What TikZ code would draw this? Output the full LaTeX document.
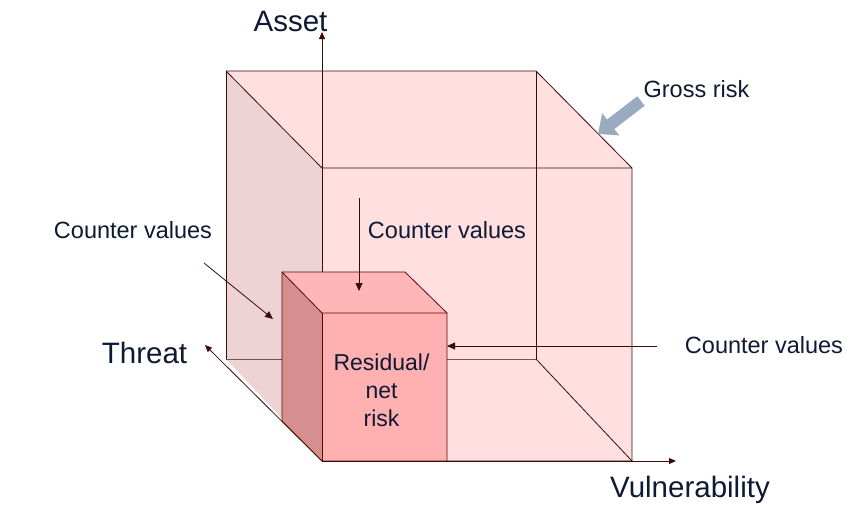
\documentclass[tikz,border=0pt]{standalone}
\usepackage{fontspec}
\setmainfont{Liberation Sans}
\usetikzlibrary{arrows.meta}
\definecolor{edge}{HTML}{3C0A0A}
\definecolor{txt}{HTML}{0E1A33}
\definecolor{bigfront}{HTML}{FFDFDF}
\definecolor{bigleft}{HTML}{EDD3D3}
\definecolor{smfront}{HTML}{FFB0B0}
\definecolor{smleft}{HTML}{D68F8F}
\definecolor{smtop}{HTML}{FFB6B6}
\definecolor{gross}{HTML}{9AAABF}
\tikzset{
  edgeline/.style={draw=edge, line width=0.8pt, line join=round},
  backline/.style={draw=edge!70!white, line width=0.8pt},
  smedge/.style={draw=edge!85!red, line width=0.8pt, line join=round},
  axis/.style={draw=edge, line width=0.8pt, -{Triangle[length=7pt,width=6pt]}},
  cvarrow/.style={draw=edge, line width=0.8pt, -{Triangle[length=8pt,width=7pt]}},
  lbl/.style={text=txt, inner sep=0pt, anchor=base},
  big/.style={lbl, font=\fontsize{29.5}{33}\selectfont},
  mid/.style={lbl, font=\fontsize{23.5}{28}\selectfont},
}
\begin{document}
\begin{tikzpicture}[x=1pt,y=-1pt]
\useasboundingbox (0,0) rectangle (856,506);
% big cube corners
\coordinate (B1) at (226,71);
\coordinate (B2) at (536,71);
\coordinate (B3) at (536,359);
\coordinate (B4) at (226,359);
\coordinate (F1) at (322,168);
\coordinate (F2) at (632,168);
\coordinate (F3) at (632,461);
\coordinate (F4) at (322,461);
% faces
\fill[bigleft] (B1) -- (F1) -- (F4) -- (B4) -- cycle;
\fill[bigfront] (B1) -- (B2) -- (F2) -- (F1) -- cycle;
\fill[bigfront] (F1) -- (F2) -- (F3) -- (F4) -- cycle;
% back edges
\draw[edgeline] (B2) -- (B3);
\draw[backline] (B4) -- (B3);
\draw[edgeline] (B3) -- (F3);
\draw[edgeline] (B1) -- (B4);
% visible edges
\draw[edgeline] (B1) -- (B2) -- (F2) -- (F3) -- (F4);
\draw[edgeline] (B1) -- (F1) -- (F2);
% axes
\coordinate (Atip) at (322,32);
\coordinate (Ttip) at (205,345);
\coordinate (Vtip) at (676,461);
\draw[axis] (F4) -- (Atip);
\draw[axis] (F4) -- (Ttip);
\draw[axis] (F4) -- (Vtip);
% small cube
\coordinate (s1) at (322,313);
\coordinate (s2) at (447,313);
\coordinate (s3) at (447,461);
\coordinate (s4) at (322,461);
\coordinate (t1) at (282,272);
\coordinate (t2) at (405,272);
\coordinate (t4) at (282,421);
\fill[smleft] (t1) -- (s1) -- (s4) -- (t4) -- cycle;
\fill[smtop] (t1) -- (t2) -- (s2) -- (s1) -- cycle;
\fill[smfront] (s1) -- (s2) -- (s3) -- (s4) -- cycle;
\draw[smedge] (t4) -- (t1) -- (t2) -- (s2) -- (s3) -- (s4) -- cycle;
\draw[smedge] (t1) -- (s1) -- (s2);
\draw[smedge] (s1) -- (s4);
\draw[edgeline] (s4) -- (F3);
% labels
\node[big] (asset) at (290.5,31) {Asset};
\node[big] (threat) at (144.5,363) {Threat};
\node[big] (vuln) at (690,497) {Vulnerability};
\node[mid] (grossl) at (696.5,97) {Gross risk};
\node[mid] (cvl) at (133,238) {Counter values};
\node[mid] (cvt) at (447,238) {Counter values};
\node[mid] (cvr) at (764,353) {Counter values};
\node[lbl, font=\fontsize{23}{28}\selectfont, align=center, anchor=center] (resid) at (381.5,390) {Residual/\\net\\risk};
% counter value arrows
\coordinate (cvls) at (204,263);
\coordinate (cvle) at (273,319);
\coordinate (cvts) at (359,198);
\coordinate (cvte) at (359,291);
\coordinate (cvrs) at (657,346);
\coordinate (cvre) at (447,346);
\draw[cvarrow] (cvls) -- (cvle);
\draw[cvarrow] (cvts) -- (cvte);
\draw[cvarrow] (cvrs) -- (cvre);
% gross risk arrow
\coordinate (gs) at (641,101);
\coordinate (ge) at (598,134);
\draw[gross, line width=12pt, -{Triangle[length=16pt,width=27pt]}] (gs) -- (ge);
\end{tikzpicture}
\end{document}
